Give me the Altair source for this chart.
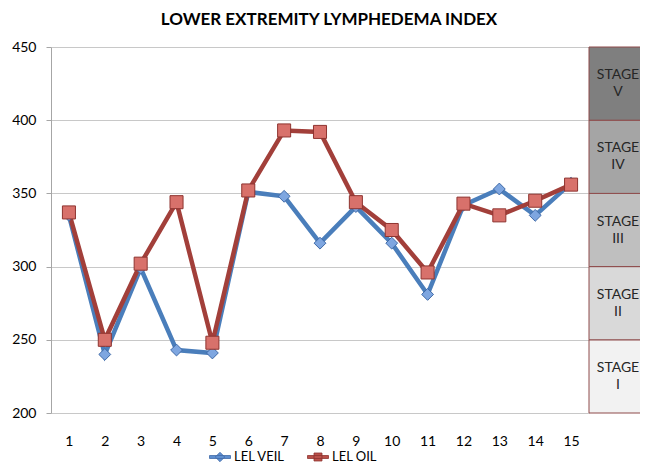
import altair as alt
import pandas as pd

x_vals = list(range(1, 16))
veil = [335, 240, 299, 243, 241, 351, 348, 316, 341, 316, 281, 342, 353, 335, 357]
oil = [337, 250, 302, 344, 248, 352, 393, 392, 344, 325, 296, 343, 335, 345, 356]
series_names = ["LEL VEIL", "LEL OIL"]

stage_labels = ["STAGE\nI", "STAGE\nII", "STAGE\nIII", "STAGE\nIV", "STAGE\nV"]
stage_low = [200, 250, 300, 350, 400]
stage_high = [250, 300, 350, 400, 450]
stage_colors = ["#f2f2f2", "#d9d9d9", "#bfbfbf", "#a5a5a5", "#7f7f7f"]

df = pd.DataFrame({
    "x": x_vals * 2,
    "value": veil + oil,
    "series": [series_names[0]] * len(x_vals) + [series_names[1]] * len(x_vals),
})
stages = pd.DataFrame({
    "low": stage_low,
    "high": stage_high,
    "mid": [(a + b) / 2 for a, b in zip(stage_low, stage_high)],
    "label": stage_labels,
    "color": stage_colors,
})

FONT = "Lato"
line_colors = ["#4a7ebb", "#a23f3a"]
fill_colors = ["#7ea6e0", "#d8716b"]
stroke_colors = ["#3f6aa8", "#8e3430"]

xenc = alt.X("x:O", scale=alt.Scale(type="point", padding=0.5),
             axis=alt.Axis(title=None, labelAngle=0, ticks=False, domain=False,
                           grid=False, labelFont=FONT, labelFontSize=14,
                           labelColor="black", labelPadding=21))
yenc = alt.Y("value:Q", scale=alt.Scale(domain=[200, 450], nice=False, zero=False),
             axis=alt.Axis(title=None, values=[200, 250, 300, 350, 400, 450],
                           grid=True, gridColor="#c8c8c8", domainColor="#a6a6a6",
                           tickColor="#a6a6a6", tickSize=5, labelFont=FONT,
                           labelFontSize=14, labelColor="black", labelPadding=10))

lines = alt.Chart(df).mark_line(strokeWidth=4.5).encode(
    x=xenc, y=yenc,
    color=alt.Color("series:N", scale=alt.Scale(domain=series_names, range=line_colors),
                    legend=None),
    detail="series:N",
)

pts_veil = alt.Chart(df).transform_filter(
    alt.datum.series == series_names[0]
).mark_point(shape="diamond", filled=True, size=140, fill=fill_colors[0],
             stroke=stroke_colors[0], strokeWidth=1, opacity=1).encode(
    x="x:O", y="value:Q")

pts_oil = alt.Chart(df).transform_filter(
    alt.datum.series == series_names[1]
).mark_point(shape="square", filled=True, size=170, fill=fill_colors[1],
             stroke=stroke_colors[1], strokeWidth=1, opacity=1).encode(
    x="x:O", y="value:Q")

path_veil = "M-1,-0.14L1,-0.14L1,0.14L-1,0.14Z M0,-0.45L0.45,0L0,0.45L-0.45,0Z"
path_oil = "M-1,-0.14L1,-0.14L1,0.14L-1,0.14Z M-0.38,-0.38L0.38,-0.38L0.38,0.38L-0.38,0.38Z"

leg = alt.Legend(title=None, orient="none", legendX=158, legendY=399,
                 direction="horizontal", labelFont=FONT, labelFontSize=13,
                 labelColor="black", symbolSize=441, symbolStrokeWidth=0.8,
                 columnPadding=20, labelOffset=3, padding=0, symbolOpacity=1)

legend_layer = alt.Chart(df).transform_filter("false").mark_point(
    filled=True, opacity=1).encode(
    shape=alt.Shape("series:N", scale=alt.Scale(domain=series_names,
                                                range=[path_veil, path_oil]), legend=leg),
    fill=alt.Fill("series:N", scale=alt.Scale(domain=series_names,
                                              range=["#5f8fd0", "#bb514b"]), legend=leg),
    stroke=alt.Stroke("series:N", scale=alt.Scale(domain=series_names,
                                                  range=stroke_colors), legend=leg),
)

stage_rects = alt.Chart(stages).mark_rect(stroke="#8e4a4a", strokeWidth=1).encode(
    x=alt.value(538), x2=alt.value(606),
    y=alt.Y("low:Q"), y2="high:Q",
    color=alt.Color("color:N", scale=None),
)
stage_text = alt.Chart(stages).mark_text(font=FONT, fontSize=14, lineHeight=17,
                                         color="#262626", lineBreak="\n",
                                         align="center", baseline="middle",
                                         dy=-8.5).encode(
    x=alt.value(567), y=alt.Y("mid:Q"), text="label:N")

chart = alt.layer(lines, pts_veil, pts_oil, legend_layer, stage_rects, stage_text).resolve_scale(
    color="independent"
).properties(
    width=538, height=366,
    title=alt.Title("LOWER EXTREMITY LYMPHEDEMA INDEX", font=FONT, fontSize=17,
                    fontWeight="bold", color="black", anchor="middle", offset=11, dx=9),
    autosize=alt.AutoSizeParams(type="none"),
    padding={"left": 43, "top": 39, "right": 51, "bottom": 51},
).configure_view(stroke=None)

chart.save("out.html", embed_options={"renderer": "svg", "actions": False})
